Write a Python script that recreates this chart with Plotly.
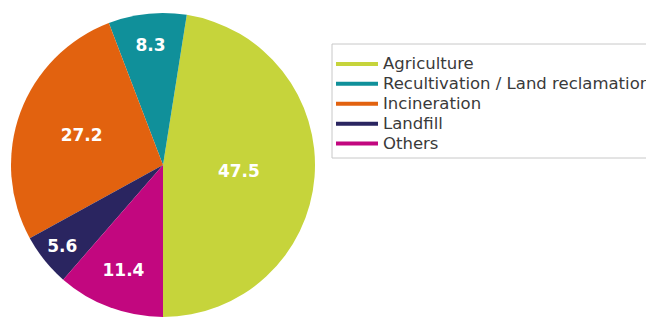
import plotly.graph_objects as go

categories = ["Agriculture", "Recultivation / Land reclamation", "Incineration", "Landfill", "Others"]
values = [47.5, 8.3, 27.2, 5.6, 11.4]
colors = ["#c6d43b", "#10909a", "#e2620f", "#2a2560", "#c2077f"]

W, H = 654, 333
OFF = 8  # page body margin

fig = go.Figure()
fig.add_trace(go.Pie(
    labels=categories, values=values, sort=False,
    direction="counterclockwise", rotation=9,
    marker=dict(colors=colors, line=dict(width=0)),
    text=[f"{v:.1f}" for v in values], textinfo="text",
    textposition="inside", insidetextorientation="horizontal",
    textfont=dict(family="DejaVu Sans", size=17, color="white", weight="bold"),
    showlegend=False, hoverinfo="label+value",
    domain=dict(x=[(11 - OFF) / W, (315 - OFF) / W],
                y=[(H - 317 + OFF) / H, (H - 13 + OFF) / H]),
))
for c, col in zip(categories, colors):
    fig.add_trace(go.Scatter(x=[None], y=[None], mode="lines",
                             name=f'<span style="font-size:16.5px">{c}</span>',
                             line=dict(color=col, width=4)))

fig.add_shape(type="rect", xref="paper", yref="paper",
              x0=(332 - OFF) / W, x1=1.1, y0=(H - 158 + OFF) / H, y1=(H - 44 + OFF) / H,
              line=dict(color="#c8c8c8", width=1), layer="below")

fig.update_layout(
    width=W, height=H,
    margin=dict(l=0, r=0, t=0, b=0),
    paper_bgcolor="white", plot_bgcolor="white",
    xaxis=dict(visible=False), yaxis=dict(visible=False),
    legend=dict(x=(331 - OFF) / W, xanchor="left", y=(H - 49 + OFF) / H, yanchor="top",
                bgcolor="rgba(0,0,0,0)", borderwidth=0,
                font=dict(family="DejaVu Sans", size=13, color="#3a3a3a"),
                tracegroupgap=0, itemwidth=42),
)
fig.write_html("out.html")
